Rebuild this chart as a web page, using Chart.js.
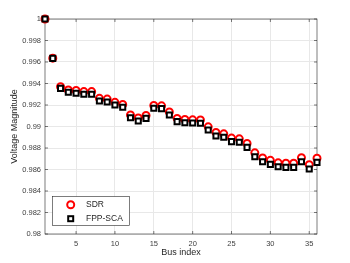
<!DOCTYPE html>
<html>
<head>
<meta charset="utf-8">
<script src="https://cdn.jsdelivr.net/npm/chart.js@4"></script>
<style>
  html, body { margin: 0; padding: 0; background: #fff; }
  canvas { display: block; }
</style>
</head>
<body>
<canvas id="myChart" width="350" height="263"></canvas>
<script>
var busIndex = [1, 2, 3, 4, 5, 6, 7, 8, 9, 10, 11, 12, 13, 14, 15, 16, 17, 18,
                19, 20, 21, 22, 23, 24, 25, 26, 27, 28, 29, 30, 31, 32, 33, 34, 35, 36];
var sdr = [1.0, 0.99636, 0.99370, 0.99340, 0.99335, 0.99325, 0.99325, 0.99262, 0.99255,
           0.99225, 0.99205, 0.99108, 0.99080, 0.99102, 0.99195, 0.99192, 0.99135, 0.99075,
           0.99065, 0.99062, 0.99060, 0.98997, 0.98945, 0.98932, 0.98892, 0.98885, 0.98842,
           0.98755, 0.98708, 0.98685, 0.98662, 0.98658, 0.98658, 0.98710, 0.98645, 0.98705];
var fppSca = [1.0, 0.99634, 0.99355, 0.99318, 0.99310, 0.99300, 0.99300, 0.99237, 0.99228,
              0.99200, 0.99179, 0.99082, 0.99051, 0.99076, 0.99170, 0.99166, 0.99107, 0.99045,
              0.99035, 0.99033, 0.99030, 0.98967, 0.98912, 0.98900, 0.98859, 0.98853, 0.98806,
              0.98719, 0.98672, 0.98648, 0.98626, 0.98620, 0.98620, 0.98672, 0.98605, 0.98666];
var xTicks = [5, 10, 15, 20, 25, 30, 35];
var yTicks = [0.98, 0.982, 0.984, 0.986, 0.988, 0.99, 0.992, 0.994, 0.996, 0.998, 1];

var FONT = 'Liberation Sans, Arial, Helvetica, sans-serif';
var AXIS = '#262626';

function pts(ys) {
    return busIndex.map(function (x, i) { return { x: x, y: ys[i] }; });
}

// MATLAB style box with inward ticks, plus the legend box
var boxPlugin = {
    id: 'box',
    beforeDatasetsDraw: function (chart) {
        var c = chart.ctx, a = chart.chartArea;
        var xs = chart.scales.x, ys = chart.scales.y;
        c.save();
        c.strokeStyle = AXIS;
        c.lineWidth = 0.6;
        c.strokeRect(a.left, a.top, a.right - a.left, a.bottom - a.top);
        c.beginPath();
        xTicks.forEach(function (v) {
            var px = xs.getPixelForValue(v);
            c.moveTo(px, a.bottom); c.lineTo(px, a.bottom - 3);
            c.moveTo(px, a.top); c.lineTo(px, a.top + 3);
        });
        yTicks.forEach(function (v) {
            var py = ys.getPixelForValue(v);
            c.moveTo(a.left, py); c.lineTo(a.left + 3, py);
            c.moveTo(a.right, py); c.lineTo(a.right - 3, py);
        });
        c.stroke();
        c.restore();
    },
    afterDraw: function (chart) {
        var c = chart.ctx;
        c.save();
        c.fillStyle = '#fff';
        c.fillRect(52.5, 196.5, 77, 29);
        c.strokeStyle = AXIS;
        c.lineWidth = 0.6;
        c.strokeRect(52.5, 196.5, 77, 29);
        c.lineWidth = 2;
        c.strokeStyle = '#ff0000';
        c.beginPath();
        c.arc(70.7, 204.7, 3.5, 0, Math.PI * 2);
        c.stroke();
        c.strokeStyle = '#000';
        c.strokeRect(70.7 - 2.5, 218.7 - 2.5, 5, 5);
        c.fillStyle = AXIS;
        c.font = '8.5px ' + FONT;
        c.textBaseline = 'middle';
        c.fillText('SDR', 86, 205);
        c.fillText('FPP-SCA', 86, 219);
        c.restore();
    }
};

var ctx = document.getElementById('myChart');
var myChart = new Chart(ctx, {
    type: 'scatter',
    data: {
        datasets: [{
            label: 'SDR',
            data: pts(sdr),
            pointStyle: 'circle',
            pointRadius: 3.5,
            borderWidth: 2,
            borderColor: '#ff0000',
            backgroundColor: '#ffffff',
            order: 2,
            clip: false
        }, {
            label: 'FPP-SCA',
            data: pts(fppSca),
            pointStyle: 'rect',
            pointRadius: 3.6,
            borderWidth: 2,
            borderColor: '#000000',
            backgroundColor: '#ffffff',
            order: 1,
            clip: false
        }]
    },
    options: {
        responsive: false,
        animation: false,
        layout: { padding: { top: 19, right: 33, left: 0, bottom: 0 } },
        plugins: {
            legend: { display: false },
            tooltip: { enabled: false }
        },
        scales: {
            x: {
                type: 'linear',
                min: 1,
                max: 36,
                afterBuildTicks: function (s) { s.ticks = xTicks.map(function (v) { return { value: v }; }); },
                afterFit: function (s) { s.height = 29; },
                grid: { color: '#e8e8e8', lineWidth: 1, drawTicks: false },
                border: { display: false },
                ticks: { padding: 5, color: '#404040', font: { family: FONT, size: 7.5 }, maxRotation: 0 },
                title: { display: true, text: 'Bus index', color: AXIS, font: { family: FONT, size: 9 }, padding: { top: 0, bottom: 5.5 } }
            },
            y: {
                min: 0.98,
                max: 1,
                afterBuildTicks: function (s) { s.ticks = yTicks.map(function (v) { return { value: v }; }); },
                afterFit: function (s) { s.width = 45; },
                grid: { color: '#e8e8e8', lineWidth: 1, drawTicks: false },
                border: { display: false },
                ticks: {
                    padding: 4, color: '#404040', font: { family: FONT, size: 7.5 },
                    callback: function (v) { return String(+Number(v).toFixed(3)); }
                },
                title: { display: true, text: 'Voltage Magnitude', color: AXIS, font: { family: FONT, size: 9 }, padding: { top: 9.5, bottom: 0 } }
            }
        }
    },
    plugins: [boxPlugin]
});
</script>
</body>
</html>
